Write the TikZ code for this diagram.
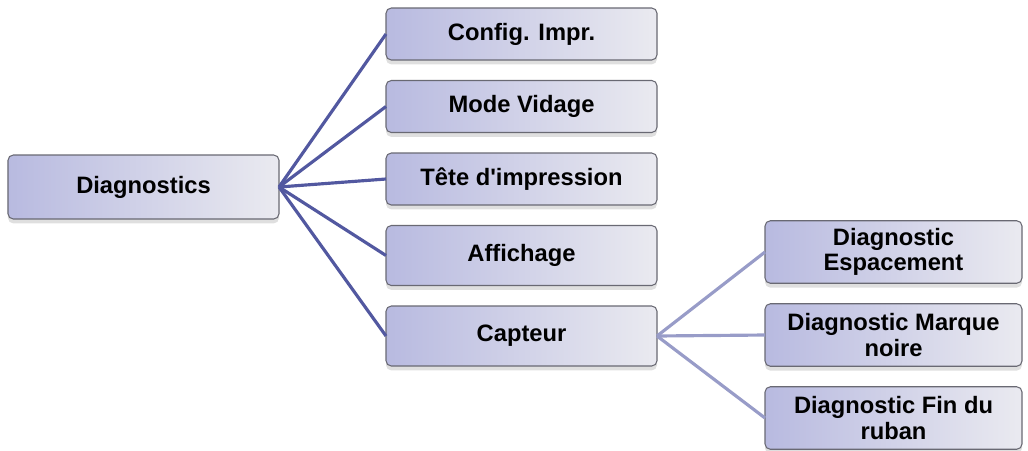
\documentclass[tikz,border=0pt]{standalone}
\usepackage{fontspec}
\setmainfont{Liberation Sans}
\usepackage{xcolor}
\definecolor{boxLeft}{RGB}{184, 186, 224}
\definecolor{boxRight}{RGB}{234, 234, 240}
\definecolor{boxBorder}{RGB}{105, 105, 115}
\definecolor{linkDark}{RGB}{82, 88, 160}
\definecolor{linkLight}{RGB}{152, 156, 200}
\usetikzlibrary{positioning, shadows}

\begin{document}
\begin{tikzpicture}[
  node distance=0.41cm,
  box/.style={rectangle, draw=boxBorder, line width=0.6pt, rounded corners=3pt,
              left color=boxLeft, right color=boxRight, align=center,
              font=\fontsize{13.5}{14.6}\selectfont\bfseries, inner sep=2pt, outer sep=0pt,
              drop shadow={opacity=0.25, shadow xshift=0pt, shadow yshift=-2.5pt}},
  lvlone/.style={box, minimum width=5.42cm, minimum height=1.04cm},
  lvltwo/.style={box, minimum width=5.14cm, minimum height=1.25cm},
  linkA/.style={linkDark, line width=1.8pt},
  linkB/.style={linkLight, line width=1.8pt},
]
  \useasboundingbox (0,0) rectangle (20.56,-9);

  % Root
  \node[box, minimum width=5.42cm, minimum height=1.28cm] (diag) at (2.87,-3.74) {Diagnostics};

  % First level
  \node[lvlone] (config) at (10.43,-0.68) {Config. Impr.};
  \node[lvlone, below=of config] (vidage) {Mode Vidage};
  \node[lvlone, below=of vidage] (tete) {Tête d\textquotesingle impression};
  \node[lvlone, below=of tete, minimum height=1.2cm] (affich) {Affichage};
  \node[lvlone, below=of affich, minimum height=1.2cm] (capteur) {Capteur};

  % Second level
  \node[lvltwo] (espace) at (17.87,-5.04) {Diagnostic\\Espacement};
  \node[lvltwo, below=of espace] (marque) {Diagnostic Marque\\noire};
  \node[lvltwo, below=of marque] (ruban) {Diagnostic Fin du\\ruban};

  % Links
  \foreach \n in {config, vidage, tete, affich, capteur}
    \draw[linkA] (diag.east) -- (\n.west);
  \foreach \n in {espace, marque, ruban}
    \draw[linkB] (capteur.east) -- (\n.west);
\end{tikzpicture}
\end{document}
